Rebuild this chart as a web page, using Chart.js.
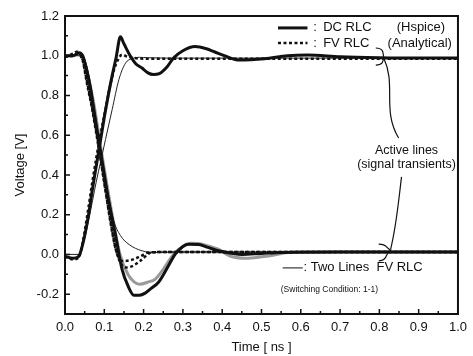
<!DOCTYPE html>
<html>
<head>
<meta charset="utf-8">
<script src="https://cdn.jsdelivr.net/npm/chart.js@4/dist/chart.umd.min.js"></script>
<style>
  html, body { margin: 0; padding: 0; background: #fff; }
  #wrap { width: 473px; height: 356px; }
</style>
</head>
<body>
<div id="wrap"><canvas id="chart"></canvas></div>
<script>
// 軸の目盛り
const xTicks = [0, 0.1, 0.2, 0.3, 0.4, 0.5, 0.6, 0.7, 0.8, 0.9, 1.0];
const yTicks = [-0.2, 0, 0.2, 0.4, 0.6, 0.8, 1.0, 1.2];

// 立ち上がり (rising) 波形
const tRiseDC = [0, 0.02, 0.035, 0.045, 0.06, 0.07, 0.08, 0.09, 0.10, 0.11, 0.12, 0.13, 0.141, 0.15, 0.167, 0.18, 0.196, 0.21, 0.225, 0.24, 0.26, 0.276, 0.30, 0.331, 0.36, 0.38, 0.407, 0.444, 0.508, 0.566, 0.617, 0.7, 0.8, 0.9, 1.0];
const vRiseDC = [-0.01, -0.02, -0.01, 0.05, 0.2, 0.33, 0.45, 0.57, 0.69, 0.8, 0.9, 0.99, 1.095, 1.06, 0.996, 0.96, 0.938, 0.915, 0.905, 0.91, 0.945, 0.988, 1.025, 1.046, 1.035, 1.02, 0.999, 0.978, 0.985, 1.0, 1.004, 0.995, 0.99, 0.988, 0.988];

const tRiseFV = [0, 0.02, 0.035, 0.045, 0.06, 0.07, 0.08, 0.09, 0.10, 0.115, 0.125, 0.135, 0.145, 0.16, 0.2, 0.3, 0.5, 0.7, 1.0];
const vRiseFV = [-0.01, -0.025, -0.015, 0.06, 0.24, 0.37, 0.49, 0.6, 0.7, 0.85, 0.93, 0.98, 1.005, 0.995, 0.985, 0.985, 0.985, 0.985, 0.985];

const tRiseTwo = [0, 0.035, 0.04, 0.05, 0.06, 0.07, 0.08, 0.09, 0.103, 0.12, 0.137, 0.154, 0.17, 0.19, 0.21, 0.3, 1.0];
const vRiseTwo = [0.0, 0.0, 0.02, 0.08, 0.17, 0.27, 0.37, 0.46, 0.578, 0.729, 0.879, 0.963, 0.985, 0.992, 0.99, 0.988, 0.988];

// 立ち下がり (falling) 波形
const tFallDC = [0, 0.02, 0.036, 0.045, 0.055, 0.065, 0.075, 0.087, 0.1, 0.112, 0.129, 0.145, 0.162, 0.175, 0.19, 0.204, 0.22, 0.238, 0.263, 0.28, 0.3, 0.314, 0.34, 0.364, 0.39, 0.423, 0.45, 0.5, 0.55, 0.7, 1.0];
const vFallDC = [1.0, 1.0, 1.015, 1.0, 0.93, 0.83, 0.7, 0.56, 0.4, 0.26, 0.093, -0.074, -0.166, -0.205, -0.205, -0.195, -0.17, -0.14, -0.058, 0.0, 0.04, 0.051, 0.05, 0.035, 0.018, 0.006, 0.0, 0.005, 0.01, 0.012, 0.012];

const tFallHs2 = [0, 0.02, 0.036, 0.045, 0.06, 0.075, 0.09, 0.1, 0.12, 0.14, 0.16, 0.175, 0.19, 0.21, 0.23, 0.25, 0.276, 0.3, 0.322, 0.34, 0.36, 0.39, 0.42, 0.46, 0.5, 0.533, 0.56, 0.6, 0.8, 1.0];
const vFallHs2 = [1.0, 1.0, 1.01, 0.99, 0.89, 0.74, 0.55, 0.43, 0.2, 0.0, -0.1, -0.137, -0.15, -0.14, -0.124, -0.075, 0.0, 0.04, 0.056, 0.055, 0.045, 0.026, -0.008, -0.019, -0.012, -0.003, 0.008, 0.012, 0.012, 0.012];

const tFallFV = [0, 0.02, 0.03, 0.045, 0.055, 0.07, 0.087, 0.1, 0.115, 0.13, 0.142, 0.154, 0.17, 0.19, 0.221, 0.26, 0.4, 1.0];
const vFallFV = [0.995, 1.01, 1.02, 0.98, 0.88, 0.73, 0.53, 0.36, 0.18, 0.02, -0.045, -0.066, -0.06, -0.035, 0.01, 0.012, 0.012, 0.012];

const tFallFV2 = [0, 0.02, 0.03, 0.045, 0.055, 0.07, 0.087, 0.1, 0.115, 0.13, 0.145, 0.165, 0.19, 0.213, 0.26, 1.0];
const vFallFV2 = [0.995, 1.0, 1.01, 0.975, 0.87, 0.72, 0.52, 0.36, 0.17, 0.02, -0.033, -0.03, -0.012, 0.01, 0.012, 0.012];

const tFallTwo = [0, 0.045, 0.055, 0.065, 0.075, 0.087, 0.1, 0.112, 0.124, 0.141, 0.163, 0.196, 0.23, 0.3, 1.0];
const vFallTwo = [1.0, 1.0, 0.95, 0.86, 0.74, 0.58, 0.42, 0.28, 0.17, 0.095, 0.05, 0.018, 0.01, 0.012, 0.012];

const FONT = "'Liberation Sans', Arial, sans-serif";
const INK = "#111";

const pts = (ts, vs) => ts.map((t, i) => ({ x: t, y: vs[i] }));

const thick  = { borderColor: INK, borderWidth: 3 };
const dashed = { borderColor: INK, borderWidth: 2.5, borderDash: [3, 2.5] };
const thin   = { borderColor: "#222", borderWidth: 1 };
const gray   = { borderColor: "#9a9a9a", borderWidth: 3 };

// 目盛り・枠・凡例・注記を描くプラグイン
const decor = {
  id: "decor",
  afterDatasetsDraw(chart) {
    const { ctx, chartArea: a, scales: { x, y } } = chart;
    const px = t => x.getPixelForValue(t);
    const py = v => y.getPixelForValue(v);
    ctx.save();
    ctx.strokeStyle = INK;
    ctx.fillStyle = INK;

    // 枠
    ctx.lineWidth = 2;
    ctx.strokeRect(a.left, a.top, a.right - a.left, a.bottom - a.top);

    // 内向きの目盛り
    ctx.lineWidth = 1.5;
    ctx.beginPath();
    for (let i = 1; i < 20; i++) {
      const xx = px(i * 0.05);
      ctx.moveTo(xx, a.bottom);
      ctx.lineTo(xx, a.bottom - (i % 2 === 0 ? 5 : 3));
    }
    for (let i = -2; i <= 11; i++) {
      const yy = py(i * 0.1);
      ctx.moveTo(a.left, yy);
      ctx.lineTo(a.left + (i % 2 === 0 ? 5 : 3), yy);
    }
    ctx.stroke();

    // 凡例（右上）
    ctx.lineWidth = 3;
    ctx.beginPath();
    ctx.moveTo(px(0.542), py(1.14));
    ctx.lineTo(px(0.617), py(1.14));
    ctx.stroke();
    ctx.lineWidth = 2.5;
    ctx.setLineDash([3, 2.5]);
    ctx.beginPath();
    ctx.moveTo(px(0.542), py(1.064));
    ctx.lineTo(px(0.617), py(1.064));
    ctx.stroke();
    ctx.setLineDash([]);

    ctx.font = "13px " + FONT;
    ctx.textBaseline = "middle";
    ctx.textAlign = "left";
    ctx.fillText(":", px(0.632), py(1.14));
    ctx.fillText("DC RLC", px(0.657), py(1.14));
    ctx.fillText("(Hspice)", px(0.844), py(1.14));
    ctx.fillText(":", px(0.632), py(1.064));
    ctx.fillText("FV RLC", px(0.657), py(1.064));
    ctx.fillText("(Analytical)", px(0.821), py(1.064));

    // 凡例（右下）
    ctx.lineWidth = 1;
    ctx.beginPath();
    ctx.moveTo(px(0.554), py(-0.068));
    ctx.lineTo(px(0.605), py(-0.068));
    ctx.stroke();
    ctx.fillText(": Two Lines  FV RLC", px(0.607), py(-0.068));
    ctx.font = "8.5px " + FONT;
    ctx.fillText("(Switching Condition: 1-1)", px(0.549), py(-0.179));

    // 注記
    ctx.font = "12.5px " + FONT;
    ctx.textAlign = "center";
    ctx.fillText("Active lines", px(0.869), py(0.525));
    ctx.fillText("(signal transients)", px(0.869), py(0.45));

    const brace = (tc, tTip, vTip, vTop, vBot) => {
      const xc = px(tc), xt = px(tTip), yt = py(vTip), y0 = py(vTop), y1 = py(vBot);
      ctx.moveTo(xc - 3, y0);
      ctx.bezierCurveTo(xc + 6, y0, xc + 4, yt - 2, xt, yt);
      ctx.bezierCurveTo(xc + 4, yt + 2, xc + 6, y1, xc - 3, y1);
    };
    const tail = (p) => {
      ctx.moveTo(px(p[0]), py(p[1]));
      ctx.bezierCurveTo(px(p[2]), py(p[3]), px(p[4]), py(p[5]), px(p[6]), py(p[7]));
    };
    ctx.lineWidth = 1.2;
    ctx.beginPath();
    brace(0.7985, 0.811, 0.994, 1.039, 0.953);
    tail([0.811, 0.989, 0.8438, 0.853, 0.806, 0.727, 0.849, 0.586]);
    brace(0.806, 0.8287, 0.022, 0.052, -0.033);
    tail([0.8564, 0.39, 0.849, 0.274, 0.8438, 0.148, 0.8287, 0.027]);
    ctx.stroke();

    ctx.restore();
  }
};

const ds = (ts, vs, style) => Object.assign({ data: pts(ts, vs), pointRadius: 0, fill: false, cubicInterpolationMode: "monotone" }, style);

new Chart(document.getElementById("chart"), {
  type: "line",
  data: {
    datasets: [
      ds(tRiseDC, vRiseDC, thick),
      ds(tFallDC, vFallDC, thick),
      ds(tRiseFV, vRiseFV, dashed),
      ds(tFallFV, vFallFV, dashed),
      ds(tFallFV2, vFallFV2, dashed),
      ds(tRiseTwo, vRiseTwo, thin),
      ds(tFallTwo, vFallTwo, thin),
      ds(tFallHs2, vFallHs2, gray)
    ]
  },
  options: {
    responsive: true,
    maintainAspectRatio: false,
    animation: false,
    layout: { padding: { top: 16, right: 11, left: 0, bottom: 0 } },
    plugins: { legend: { display: false }, tooltip: { enabled: false } },
    scales: {
      x: {
        type: "linear", min: 0, max: 1,
        grid: { display: false, drawTicks: false },
        border: { display: false },
        afterBuildTicks: s => { s.ticks = xTicks.map(v => ({ value: v })); },
        afterFit: s => { s.height = 42; },
        ticks: { color: INK, padding: 6, font: { family: FONT, size: 13 }, callback: v => Number(v).toFixed(1), maxRotation: 0 },
        title: { display: true, text: "Time [ ns ]", color: INK, font: { family: FONT, size: 13 }, padding: { top: 0, bottom: 1 } }
      },
      y: {
        type: "linear", min: -0.3, max: 1.2,
        grid: { display: false, drawTicks: false },
        border: { display: false },
        afterBuildTicks: s => { s.ticks = yTicks.map(v => ({ value: v })); },
        afterFit: s => { s.width = 65; },
        ticks: { color: INK, padding: 6, font: { family: FONT, size: 13 }, callback: v => Number(v).toFixed(1) },
        title: { display: true, text: "Voltage [V]", color: INK, font: { family: FONT, size: 13 }, padding: { top: 13, bottom: 0 } }
      }
    }
  },
  plugins: [decor]
});
</script>
</body>
</html>
